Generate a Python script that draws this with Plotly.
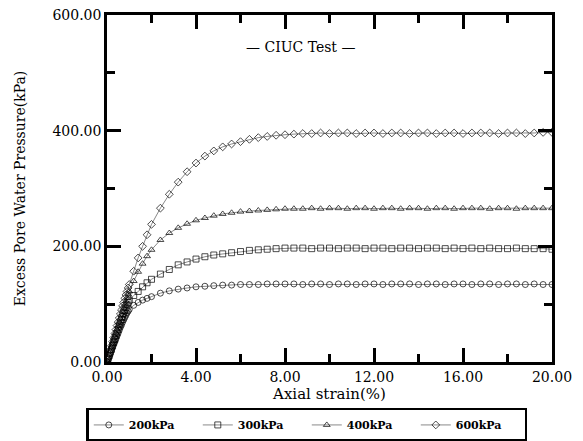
import plotly.graph_objects as go

strain = [0.0, 0.05, 0.1, 0.15, 0.2, 0.25, 0.3, 0.35, 0.4, 0.45, 0.5, 0.55, 0.6, 0.65, 0.7,
          0.75, 0.8, 0.85, 0.9, 0.95, 1.0, 1.2, 1.4, 1.6, 1.8, 2.0,
          2.4, 2.8, 3.2, 3.6, 4.0, 4.4, 4.8, 5.2, 5.6, 6.0, 6.4, 6.8, 7.2, 7.6, 8.0,
          8.4, 8.8, 9.2, 9.6, 10.0, 10.4, 10.8, 11.2, 11.6, 12.0, 12.4, 12.8, 13.2, 13.6, 14.0,
          14.4, 14.8, 15.2, 15.6, 16.0, 16.4, 16.8, 17.2, 17.6, 18.0, 18.4, 18.8, 19.2, 19.6, 20.0]

u200 = [0, 5, 10, 15, 20, 25, 30, 35, 40, 45, 50, 55, 60, 64, 69, 73, 77, 81, 85, 88, 91,
        98, 103, 107, 110, 113,
        119, 123, 126, 128, 130, 131, 132, 133, 133, 134, 134, 134, 135, 135, 135,
        135, 134, 135, 135, 134, 135, 135, 134, 135, 135, 134, 135, 135, 135, 134,
        135, 135, 134, 135, 135, 134, 135, 135, 134, 135, 135, 134, 135, 134, 134]

u300 = [0, 6, 11, 17, 22, 28, 34, 39, 45, 50, 56, 62, 67, 73, 78, 84, 89, 94, 99, 103, 107,
        115, 122, 130, 137, 143,
        152, 160, 168, 173, 178, 182, 185, 187, 189, 191, 193, 194, 195, 196, 197,
        197, 197, 196, 197, 197, 196, 197, 197, 196, 197, 197, 196, 197, 197, 196,
        197, 197, 196, 197, 196, 197, 196, 197, 196, 196, 197, 196, 196, 196, 195]

u400 = [0, 6, 12, 19, 25, 31, 37, 44, 50, 56, 62, 68, 75, 81, 87, 93, 99, 105, 111, 117, 122,
        140, 156, 170, 183, 194,
        211, 223, 232, 239, 245, 249, 253, 256, 258, 260, 261, 262, 263, 264, 265,
        265, 265, 266, 265, 266, 266, 265, 266, 266, 265, 266, 266, 265, 266, 266,
        265, 266, 266, 265, 266, 266, 266, 265, 266, 266, 265, 266, 266, 266, 266]

u600 = [0, 7, 14, 21, 28, 35, 42, 49, 56, 63, 69, 76, 83, 90, 97, 103, 110, 116, 122, 128, 134,
        157, 180, 200, 220, 238,
        266, 290, 311, 329, 344, 356, 365, 372, 377, 381, 385, 388, 390, 392, 393,
        394, 395, 395, 396, 395, 396, 396, 395, 396, 396, 395, 396, 396, 395, 396,
        396, 395, 396, 396, 395, 396, 396, 396, 395, 396, 396, 395, 396, 397, 397]

series = [
    ("200kPa", u200, "circle-open"),
    ("300kPa", u300, "square-open"),
    ("400kPa", u400, "triangle-up-open"),
    ("600kPa", u600, "diamond-open"),
]

SERIF = "DejaVu Serif"

fig = go.Figure()
for name, vals, sym in series:
    fig.add_trace(go.Scatter(
        x=strain, y=vals, name=name, mode="lines+markers",
        line=dict(color="#555555", width=0.7),
        marker=dict(symbol=sym, size=6, color="black", line=dict(width=0.7, color="black")),
    ))

fig.add_annotation(x=8.7, y=545, xref="x", yref="y", text="— CIUC Test —",
                   showarrow=False, font=dict(family=SERIF, size=14, color="black"))

axis_common = dict(
    showline=True, linecolor="black", linewidth=2.5, mirror="ticks",
    ticks="inside", ticklen=14, tickwidth=2.5, tickcolor="black",
    showgrid=False, zeroline=False, tickformat=".2f",
    tickfont=dict(family=SERIF, size=14, color="black"),
)

fig.update_xaxes(range=[0, 20], dtick=4, tick0=0,
                 minor=dict(dtick=2, ticks="inside", ticklen=8, tickwidth=2.5, tickcolor="black"),
                 title=dict(text="Axial strain(%)", font=dict(family=SERIF, size=15, color="black"),
                            standoff=4),
                 **axis_common)
fig.update_yaxes(range=[0, 600], dtick=200, tick0=0,
                 minor=dict(dtick=100, ticks="inside", ticklen=8, tickwidth=2.5, tickcolor="black"),
                 title=dict(text="Excess Pore Water Pressure(kPa)",
                            font=dict(family=SERIF, size=14, color="black"), standoff=24),
                 **axis_common)

fig.update_layout(
    width=583, height=441,
    margin=dict(l=107, r=31, t=15, b=79, autoexpand=False),
    paper_bgcolor="white", plot_bgcolor="white",
    showlegend=True,
    legend=dict(orientation="h", xref="container", yref="container",
                x=0.148, y=0.075, xanchor="left", yanchor="top",
                bordercolor="black", borderwidth=2.5, bgcolor="white",
                font=dict(family=SERIF, size=11, color="black", weight="bold"),
                entrywidth=64, entrywidthmode="pixels", tracegroupgap=0),
)

fig.write_html("out.html", config={"displayModeBar": False},
               post_script="document.body.style.margin='0';")
